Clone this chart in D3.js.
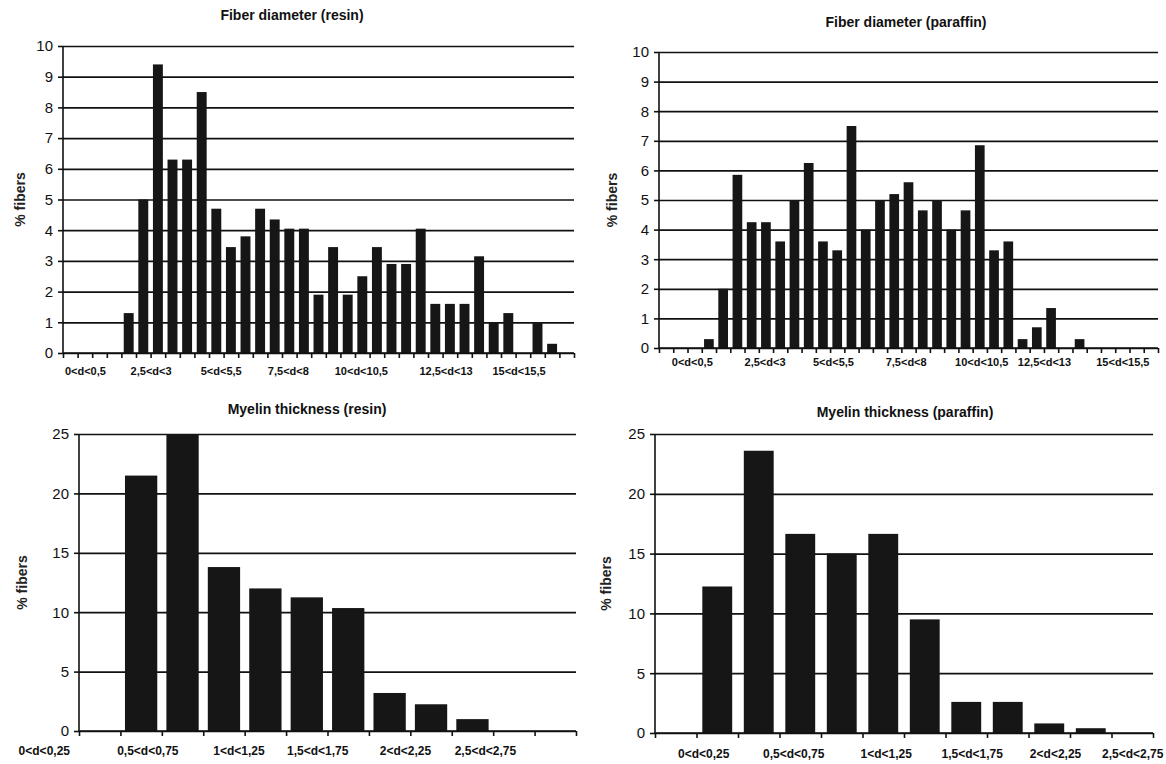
<!DOCTYPE html>
<html>
<head>
<meta charset="utf-8">
<script src="https://cdn.jsdelivr.net/npm/d3@7"></script>
<style>
  body { margin: 0; background: #fff; }
  svg { font-family: "Liberation Sans", Arial, sans-serif; }
  .title { font-size: 14px; font-weight: bold; fill: #111; }
  .axis-title { font-size: 14px; font-weight: bold; fill: #222; }
  .y-axis text { font-size: 15px; fill: #111; }
  .x-labels text { font-weight: bold; fill: #111; }
  .grid line { stroke: #111; stroke-width: 1.7; }
  .axis path, .axis line { stroke: #111; stroke-width: 1.6; }
  .bar { fill: #161616; }
</style>
</head>
<body>
<svg id="chart" width="1166" height="764"></svg>
<script>
// ---- data ----
const fiberResinValues = [0, 0, 0, 0, 1.3, 5.0, 9.4, 6.3, 6.3, 8.5, 4.7, 3.45, 3.8, 4.7, 4.35,
  4.05, 4.05, 1.9, 3.45, 1.9, 2.5, 3.45, 2.9, 2.9, 4.05, 1.6, 1.6, 1.6, 3.15, 1.0, 1.3, 0, 1.0, 0.3, 0];
const fiberParaffinValues = [0, 0, 0, 0.3, 2.0, 5.85, 4.25, 4.25, 3.6, 5.0, 6.25, 3.6, 3.3, 7.5, 4.0,
  5.0, 5.2, 5.6, 4.65, 5.0, 4.0, 4.65, 6.85, 3.3, 3.6, 0.3, 0.7, 1.35, 0, 0.3, 0, 0, 0, 0, 0];
const myelinResinValues = [0, 21.5, 25, 13.8, 12.0, 11.25, 10.35, 3.2, 2.25, 1.0, 0, 0];
const myelinParaffinValues = [0, 12.25, 23.6, 16.65, 15.0, 16.65, 9.5, 2.6, 2.6, 0.8, 0.4, 0];

// category labels shown under the axis (only every few bins carry one)
const fiberTickLabels = ["0<d<0,5", "2,5<d<3", "5<d<5,5", "7,5<d<8", "10<d<10,5", "12,5<d<13", "15<d<15,5"];
const myelinTickLabels = ["0<d<0,25", "0,5<d<0,75", "1<d<1,25", "1,5<d<1,75", "2<d<2,25", "2,5<d<2,75"];
// where each label sits, in bin units from the y axis
const fiberResinLabelPos = [1.5, 6.0, 10.8, 15.4, 20.4, 26.2, 31.2];
const fiberParaffinLabelPos = [2.3, 7.4, 12.2, 17.3, 22.6, 27.0, 32.5];
const myelinResinLabelPos = [-0.85, 1.65, 3.85, 5.75, 7.87, 9.8];
const myelinParaffinLabelPos = [1.16, 3.33, 5.56, 7.63, 9.64, 11.5];

const fiberYTicks = d3.range(0, 11, 1);
const myelinYTicks = [0, 5, 10, 15, 20, 25];

class Histogram {

    constructor(_config, _values, _labels, _labelPos, _yTicks) {
        this.config = _config;
        this.values = _values;
        this.labels = _labels;
        this.labelPos = _labelPos;
        this.yTicks = _yTicks;
        this.initVis();
    }

    initVis() {
        let vis = this;
        const c = vis.config;
        const n = vis.values.length;

        vis.width = c.right - c.left;
        vis.height = c.bottom - c.top;

        // bars
        vis.xScale = d3.scaleBand()
            .domain(d3.range(n))
            .range([0, vis.width])
            .paddingInner(c.padding)
            .paddingOuter(c.padding / 2);

        // bin boundaries, used for ticks and label placement
        vis.xPos = d3.scaleLinear()
            .domain([0, n])
            .range([0, vis.width]);

        vis.yScale = d3.scaleLinear()
            .domain([0, d3.max(vis.yTicks)])
            .range([vis.height, 0]);

        vis.chart = d3.select('#chart').append('g')
            .attr('transform', `translate(${c.left},${c.top})`);

        // gridlines
        vis.chart.append('g')
            .attr('class', 'grid')
            .call(d3.axisLeft(vis.yScale).tickValues(vis.yTicks).tickSize(-vis.width).tickFormat(''))
            .call(g => g.select('.domain').remove());

        vis.chart.selectAll('.bar')
            .data(vis.values)
            .join('rect')
            .attr('class', 'bar')
            .attr('x', (d, i) => vis.xScale(i))
            .attr('width', vis.xScale.bandwidth())
            .attr('y', d => vis.yScale(d))
            .attr('height', d => vis.height - vis.yScale(d));

        vis.chart.append('g')
            .attr('class', 'axis y-axis')
            .call(d3.axisLeft(vis.yScale).tickValues(vis.yTicks).tickSize(5).tickPadding(5))
            .call(g => g.select('.domain').attr('d', `M0,0V${vis.height}`));

        vis.chart.append('g')
            .attr('class', 'axis x-axis')
            .attr('transform', `translate(0,${vis.height})`)
            .call(d3.axisBottom(vis.xPos).tickValues(d3.range(n + 1)).tickSize(5).tickFormat(''))
            .call(g => g.select('.domain').attr('d', `M0,0H${vis.width}`));

        vis.chart.append('g')
            .attr('class', 'x-labels')
            .attr('transform', `translate(0,${vis.height})`)
            .call(d3.axisBottom(vis.xPos).tickValues(vis.labelPos).tickSize(0)
                .tickPadding(c.labelGap).tickFormat((d, i) => vis.labels[i]))
            .call(g => g.select('.domain').remove())
            .selectAll('text')
            .style('font-size', c.labelSize + 'px');

        vis.chart.append('text')
            .attr('class', 'title')
            .attr('x', c.titleX - c.left)
            .attr('y', c.titleY - c.top)
            .attr('text-anchor', 'middle')
            .text(c.title);

        vis.chart.append('text')
            .attr('class', 'axis-title')
            .attr('transform', `translate(${c.yTitleX - c.left},${vis.height / 2}) rotate(-90)`)
            .attr('text-anchor', 'middle')
            .attr('dy', '0.35em')
            .text('% fibers');
    }
}

new Histogram({left: 63, right: 574, top: 46, bottom: 353, padding: 0.32, labelGap: 14, labelSize: 11,
    title: 'Fiber diameter (resin)', titleX: 292, titleY: 20, yTitleX: 20},
    fiberResinValues, fiberTickLabels, fiberResinLabelPos, fiberYTicks);

new Histogram({left: 659, right: 1158, top: 52, bottom: 348, padding: 0.32, labelGap: 10, labelSize: 11,
    title: 'Fiber diameter (paraffin)', titleX: 906, titleY: 27, yTitleX: 612},
    fiberParaffinValues, fiberTickLabels, fiberParaffinLabelPos, fiberYTicks);

new Histogram({left: 79, right: 576, top: 434, bottom: 731, padding: 0.22, labelGap: 15, labelSize: 12,
    title: 'Myelin thickness (resin)', titleX: 307, titleY: 414, yTitleX: 22},
    myelinResinValues, myelinTickLabels, myelinResinLabelPos, myelinYTicks);

new Histogram({left: 655, right: 1153, top: 434, bottom: 733, padding: 0.28, labelGap: 16, labelSize: 12,
    title: 'Myelin thickness (paraffin)', titleX: 905, titleY: 417, yTitleX: 606},
    myelinParaffinValues, myelinTickLabels, myelinParaffinLabelPos, myelinYTicks);
</script>
</body>
</html>
